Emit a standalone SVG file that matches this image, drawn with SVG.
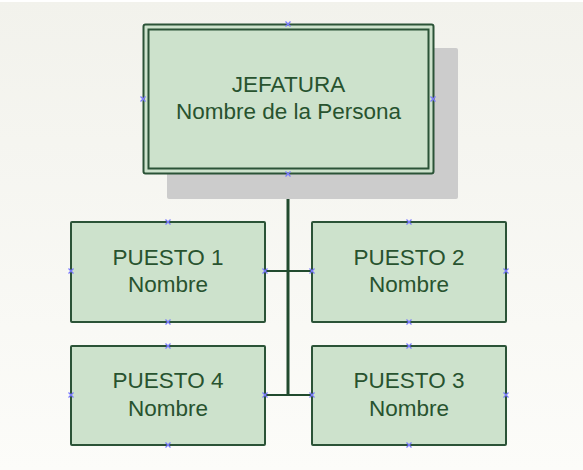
<svg xmlns="http://www.w3.org/2000/svg" width="583" height="470" viewBox="0 0 583 470">
<defs>
<linearGradient id="bg" x1="0" y1="0" x2="0" y2="1">
<stop offset="0" stop-color="#f2f2ec"/>
<stop offset="1" stop-color="#fcfcf9"/>
</linearGradient>
<path id="xm" d="M-2.5,-2.5 L2.5,2.5 M-2.5,2.5 L2.5,-2.5"/>
</defs>
<style>
.box{fill:#cde2cc;stroke:#2b5337;stroke-width:2}
.t{font-family:"Liberation Sans",Arial,sans-serif;font-size:22.5px;fill:#28532f;text-anchor:middle}
.c{stroke:#214a2e;fill:none}
.m{stroke:#7a7aff;stroke-width:1.2;fill:none}
</style>
<rect x="0" y="0" width="583" height="470" fill="url(#bg)"/>
<rect x="0" y="0" width="583" height="2" fill="#ffffff"/>
<g id="connectors">
<line class="c" x1="288" y1="174" x2="288" y2="396" stroke-width="3"/>
<line class="c" x1="265" y1="271" x2="312" y2="271" stroke-width="2"/>
<line class="c" x1="265" y1="395" x2="312" y2="395" stroke-width="2"/>
</g>
<g id="jefatura">
<rect x="167" y="48" width="291" height="151" rx="2" fill="#cccccc"/>
<rect x="143.5" y="24.5" width="290" height="149" rx="2" fill="#cde2cc" stroke="#2b5337" stroke-width="2"/>
<rect x="148.5" y="29.5" width="280" height="139" fill="none" stroke="#2b5337" stroke-width="2"/>
<text class="t" x="288.5" y="92">JEFATURA</text>
<text class="t" x="288.5" y="119">Nombre de la Persona</text>
<use href="#xm" x="288" y="24" class="m"/>
<use href="#xm" x="288" y="174" class="m"/>
<use href="#xm" x="143" y="99" class="m"/>
<use href="#xm" x="433" y="99" class="m"/>
</g>
<g id="puesto1">
<rect class="box" x="71" y="222" width="194" height="100" rx="1"/>
<text class="t" x="168" y="265">PUESTO 1</text>
<text class="t" x="168" y="292">Nombre</text>
<use href="#xm" x="168" y="222" class="m"/>
<use href="#xm" x="168" y="322" class="m"/>
<use href="#xm" x="71" y="271" class="m"/>
<use href="#xm" x="265" y="271" class="m"/>
</g>
<g id="puesto2">
<rect class="box" x="312" y="222" width="194" height="100" rx="1"/>
<text class="t" x="409" y="265">PUESTO 2</text>
<text class="t" x="409" y="292">Nombre</text>
<use href="#xm" x="409" y="222" class="m"/>
<use href="#xm" x="409" y="322" class="m"/>
<use href="#xm" x="312" y="271" class="m"/>
<use href="#xm" x="506" y="271" class="m"/>
</g>
<g id="puesto4">
<rect class="box" x="71" y="346" width="194" height="99" rx="1"/>
<text class="t" x="168" y="388">PUESTO 4</text>
<text class="t" x="168" y="416">Nombre</text>
<use href="#xm" x="168" y="346" class="m"/>
<use href="#xm" x="168" y="445" class="m"/>
<use href="#xm" x="71" y="395" class="m"/>
<use href="#xm" x="265" y="395" class="m"/>
</g>
<g id="puesto3">
<rect class="box" x="312" y="346" width="194" height="99" rx="1"/>
<text class="t" x="409" y="388">PUESTO 3</text>
<text class="t" x="409" y="416">Nombre</text>
<use href="#xm" x="409" y="346" class="m"/>
<use href="#xm" x="409" y="445" class="m"/>
<use href="#xm" x="312" y="395" class="m"/>
<use href="#xm" x="506" y="395" class="m"/>
</g>
</svg>
